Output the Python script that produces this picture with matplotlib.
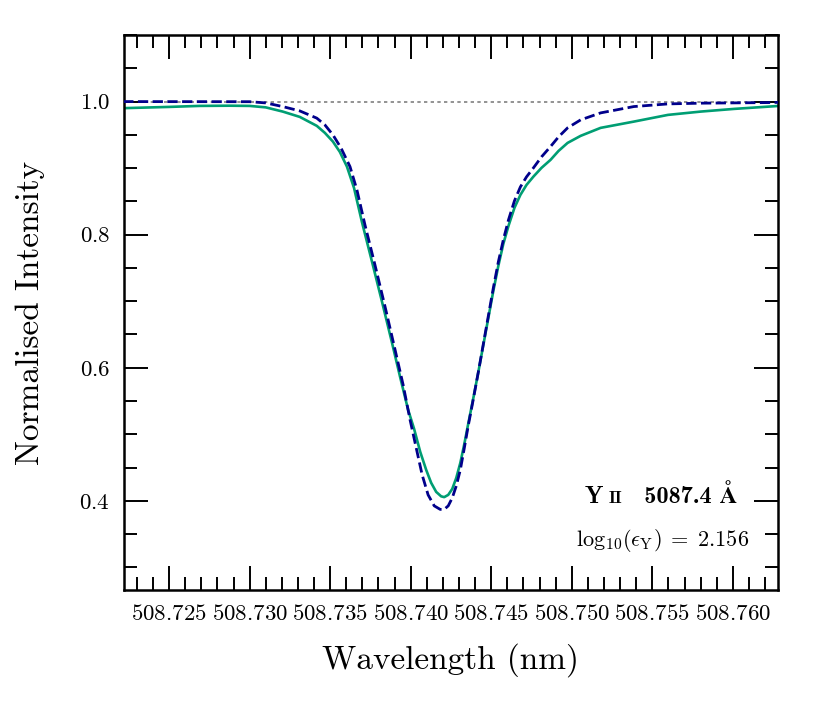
import matplotlib
matplotlib.use("Agg")
import matplotlib.pyplot as plt
from matplotlib.ticker import MultipleLocator, ScalarFormatter
from matplotlib.offsetbox import TextArea, HPacker, AnchoredOffsetbox

plt.rcParams["font.family"] = "serif"
plt.rcParams["font.serif"] = ["cmr10"]
plt.rcParams["mathtext.fontset"] = "cm"
plt.rcParams["axes.formatter.use_mathtext"] = True
plt.rcParams["axes.unicode_minus"] = False

# Perfil observado (linea continua verde)
lam_obs = [508.72215, 508.72502, 508.72689, 508.72875, 508.73000, 508.73100,
           508.73205, 508.73311, 508.73417, 508.73467, 508.73517, 508.73560,
           508.73604, 508.73648, 508.73697, 508.73760, 508.73822, 508.73884,
           508.73934, 508.73984, 508.74021, 508.74059, 508.74096, 508.74127,
           508.74158, 508.74189, 508.74208, 508.74233, 508.74258, 508.74283,
           508.74308, 508.74333, 508.74357, 508.74389, 508.74420, 508.74451,
           508.74482, 508.74513, 508.74544, 508.74575, 508.74607, 508.74644,
           508.74681, 508.74719, 508.74762, 508.74812, 508.74868, 508.74918,
           508.74974, 508.75055, 508.75179, 508.75385, 508.75597, 508.75802,
           508.76008, 508.76288]
int_obs = [0.9901, 0.9920, 0.9935, 0.9938, 0.9935, 0.9913,
           0.9850, 0.9770, 0.9635, 0.9530, 0.9399, 0.9244,
           0.9023, 0.8703, 0.8192, 0.7591, 0.6990, 0.6374,
           0.5863, 0.5367, 0.5082, 0.4737, 0.4466, 0.4271,
           0.4135, 0.4068, 0.4056, 0.4090, 0.4180, 0.4346,
           0.4571, 0.4857, 0.5157, 0.5548, 0.5938, 0.6344,
           0.6750, 0.7156, 0.7531, 0.7862, 0.8132, 0.8403,
           0.8598, 0.8748, 0.8873, 0.9004, 0.9124, 0.9259,
           0.9379, 0.9485, 0.9605, 0.9699, 0.9800, 0.9850,
           0.9890, 0.9935]

# Perfil sintetico (linea discontinua azul)
lam_syn = [508.72215, 508.73000, 508.73100, 508.73205, 508.73311, 508.73417,
           508.73467, 508.73517, 508.73567, 508.73623, 508.73666, 508.73716,
           508.73778, 508.73841, 508.73903, 508.73953, 508.73996, 508.74034,
           508.74071, 508.74108, 508.74146, 508.74183, 508.74208, 508.74233,
           508.74258, 508.74283, 508.74308, 508.74333, 508.74357, 508.74389,
           508.74420, 508.74451, 508.74482, 508.74513, 508.74544, 508.74575,
           508.74607, 508.74644, 508.74681, 508.74719, 508.74762, 508.74812,
           508.74868, 508.74918, 508.74974, 508.75055, 508.75179, 508.75385,
           508.75597, 508.75802, 508.76219, 508.76288]
int_syn = [1.0000, 0.9998, 0.9980, 0.9925, 0.9860, 0.9751,
           0.9650, 0.9500, 0.9304, 0.9023, 0.8673, 0.8147,
           0.7546, 0.6915, 0.6269, 0.5743, 0.5217, 0.4797,
           0.4391, 0.4090, 0.3925, 0.3872, 0.3872, 0.3925,
           0.4045, 0.4226, 0.4466, 0.4797, 0.5127, 0.5533,
           0.5938, 0.6359, 0.6780, 0.7201, 0.7591, 0.7922,
           0.8222, 0.8508, 0.8718, 0.8869, 0.9004, 0.9169,
           0.9324, 0.9470, 0.9605, 0.9725, 0.9830, 0.9925,
           0.9965, 0.9976, 0.9985, 0.9988]

continuo = 1.0
x_lim = (508.7222, 508.7628)
y_lim = (0.266, 1.1)

fig = plt.figure(figsize=(8.3, 7.12), dpi=100)
ax = fig.add_axes([0.1494, 0.1713, 0.7879, 0.7795])

ax.axhline(continuo, color="grey", linestyle=(0, (2, 2)), linewidth=1.2, zorder=1)
ax.plot(lam_obs, int_obs, color="#009E73", linewidth=1.9, zorder=2)
ax.plot(lam_syn, int_syn, color="#00008B", linewidth=2.0, linestyle="--", zorder=3)

ax.set_xlim(*x_lim)
ax.set_ylim(*y_lim)

fmt = ScalarFormatter(useOffset=False)
ax.xaxis.set_major_formatter(fmt)
ax.xaxis.set_major_locator(MultipleLocator(0.005))
ax.xaxis.set_minor_locator(MultipleLocator(0.001))
ax.yaxis.set_major_locator(MultipleLocator(0.2))
ax.yaxis.set_minor_locator(MultipleLocator(0.05))

ax.tick_params(which="both", direction="in", top=True, right=True, width=1.4,
               labelsize=16.5, pad=10)
ax.tick_params(which="major", length=17.5)
ax.tick_params(which="minor", length=9.5)
for s in ax.spines.values():
    s.set_linewidth(1.8)

ax.set_xlabel("Wavelength (nm)", fontsize=24, labelpad=14)
ax.set_ylabel("Normalised Intensity", fontsize=24, labelpad=25)

# Etiqueta de la linea
negrita = dict(fontsize=17.5, family=["cmb10", "STIXGeneral"], fontweight="bold")
partes = [
    TextArea("Y", textprops=negrita),
    TextArea("II", textprops=dict(negrita, fontsize=12.5)),
    TextArea("  5087.4 Å", textprops=negrita),
]
caja = HPacker(children=partes, align="baseline", pad=0, sep=4)
ab = AnchoredOffsetbox(loc="center", child=caja, frameon=False, pad=0, borderpad=0,
                       bbox_to_anchor=(0.821, 0.168), bbox_transform=ax.transAxes)
ax.add_artist(ab)
ax.text(0.824, 0.09, r"$\mathrm{log}_{10}(\epsilon_{\mathrm{Y}})\;=\;2.156$",
        transform=ax.transAxes, ha="center", va="center", fontsize=16)

fig.savefig("out.png", dpi=100)
